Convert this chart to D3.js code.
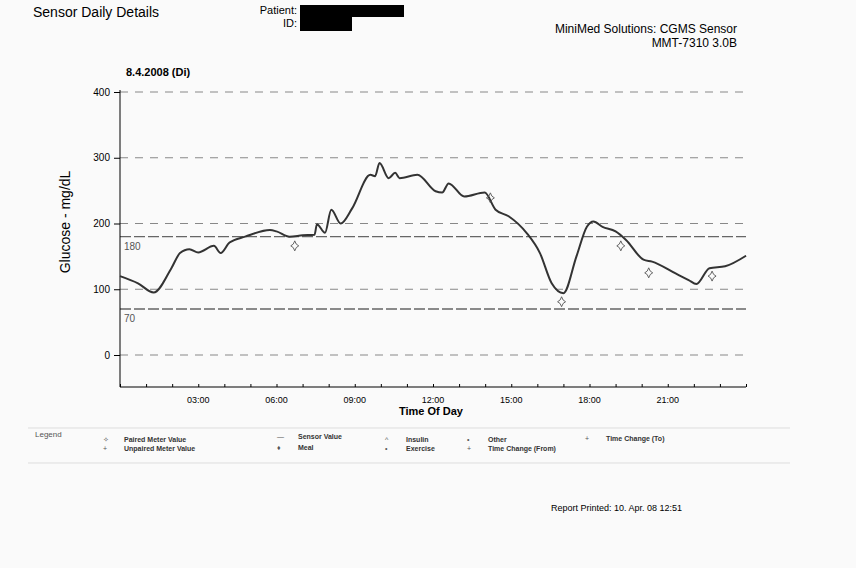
<!DOCTYPE html><html><head><meta charset="utf-8"><script src="https://cdn.jsdelivr.net/npm/d3@7"></script>
<style>body{margin:0;background:#fafafa}text{font-family:"Liberation Sans",Arial,sans-serif}</style></head><body><svg id="c" width="856" height="568"></svg><script>
const sensorHours=[0,0.69,1.29,1.97,2.3,2.66,3.0,3.6,3.86,4.2,4.8,5.75,6.0,6.5,7.0,7.46,7.55,7.86,8.1,8.46,8.9,9.6,9.78,9.95,10.3,10.55,10.72,11.4,12.1,12.35,12.6,13.2,13.98,14.4,14.9,15.6,16.1,16.55,17,17.5,17.9,18.15,18.5,19.0,19.4,20.07,20.4,21.3,21.8,22.1,22.6,23.2,24];
const sensorValues=[120,109,95,132,155,161,156,166,155,171,180,190,188,180,182,183,199,186,221,200,223,274,272,292,269,277,269,274,249,247,261,241,247,221,211,185,155,109,94,150,195,203,195,188,175,145,142,124,114,108,132,135,151];
const meterHours=[6.7,14.2,16.93,19.2,20.27,22.7];
const meterValues=[166,239,81,166,125,120];
const yTicks=[0,100,200,300,400];
const limits=[180,70];
const xTickLabels=["03:00","06:00","09:00","12:00","15:00","18:00","21:00"];
const svg=d3.select("#c");
const xa=d3.scaleLinear().domain([0,24]).range([120,746]);
const y=d3.scaleLinear().domain([0,400]).range([355,92]);
svg.append("text").attr("x",33).attr("y",17).attr("font-size",14).text("Sensor Daily Details");
svg.append("text").attr("x",297).attr("y",14).attr("font-size",11).attr("text-anchor","end").text("Patient:");
svg.append("text").attr("x",297).attr("y",27).attr("font-size",11).attr("text-anchor","end").text("ID:");
svg.append("rect").attr("x",300).attr("y",5).attr("width",104).attr("height",12);
svg.append("rect").attr("x",300).attr("y",17).attr("width",52).attr("height",14);
svg.append("text").attr("x",737).attr("y",33).attr("font-size",12).attr("text-anchor","end").text("MiniMed Solutions: CGMS Sensor");
svg.append("text").attr("x",737).attr("y",47).attr("font-size",12).attr("text-anchor","end").text("MMT-7310 3.0B");
svg.append("text").attr("x",126).attr("y",76).attr("font-size",11).attr("font-weight","bold").text("8.4.2008 (Di)");
svg.selectAll(".g").data(yTicks).join("line").attr("x1",120).attr("x2",746).attr("y1",d=>y(d)).attr("y2",d=>y(d)).attr("stroke","#888").attr("stroke-dasharray","8,7");
svg.selectAll(".l").data(limits).join("line").attr("x1",120).attr("x2",746).attr("y1",d=>y(d)).attr("y2",d=>y(d)).attr("stroke","#666").attr("stroke-width",1.3).attr("stroke-dasharray","11,3");
svg.selectAll(".lt").data(limits).join("text").attr("x",124).attr("y",d=>y(d)+13).attr("font-size",10).attr("fill","#555").text(d=>d);
svg.append("g").attr("transform","translate(120,0)").call(d3.axisLeft(y).tickValues(yTicks).tickSize(6).tickFormat(d3.format("d"))).call(g=>{g.select(".domain").attr("d","M0,90V387");g.selectAll("text").attr("font-size",10).attr("x",-10);});
svg.append("g").attr("transform","translate(0,387)").call(d3.axisTop(xa).ticks(24).tickSize(3).tickFormat("")).call(g=>g.select(".domain").remove());
svg.append("line").attr("x1",120).attr("x2",746).attr("y1",387).attr("y2",387).attr("stroke","#000");
svg.selectAll(".xt").data(xTickLabels).join("text").attr("x",(d,i)=>xa(3*(i+1))).attr("y",403).attr("font-size",9).attr("text-anchor","middle").text(d=>d);
svg.append("text").attr("x",431).attr("y",415).attr("font-size",11).attr("font-weight","bold").attr("text-anchor","middle").text("Time Of Day");
svg.append("text").attr("transform","translate(70,222)rotate(-90)").attr("font-size",14).attr("text-anchor","middle").text("Glucose - mg/dL");
svg.append("path").datum(sensorHours.map((h,i)=>[h,sensorValues[i]])).attr("d",d3.line().x(d=>xa(d[0])).y(d=>y(d[1])).curve(d3.curveMonotoneX)).attr("fill","none").attr("stroke","#333").attr("stroke-width",2);
const sparkle="M0,-5Q1,-1 4,0Q1,1 0,5Q-1,1 -4,0Q-1,-1 0,-5Z";
svg.selectAll(".m").data(meterHours).join("path").attr("d",sparkle).attr("transform",(d,i)=>`translate(${xa(d)},${y(meterValues[i])})`).attr("fill","none").attr("stroke","#555").attr("stroke-width",0.9);
svg.append("line").attr("x1",28).attr("x2",790).attr("y1",428).attr("y2",428).attr("stroke","#ddd");
svg.append("line").attr("x1",28).attr("x2",790).attr("y1",463).attr("y2",463).attr("stroke","#ddd");
svg.append("text").attr("x",35).attr("y",437).attr("font-size",8).attr("fill","#555").text("Legend");
const leg=[[103,442,"✧","Paired Meter Value"],[103,451,"+","Unpaired Meter Value"],[277,439,"—","Sensor Value"],[277,450,"♦","Meal"],[385,442,"^","Insulin"],[385,451,"•","Exercise"],[467,442,"•","Other"],[467,451,"+","Time Change (From)"],[585,441,"+","Time Change (To)"]];
leg.forEach(d=>{svg.append("text").attr("x",d[0]).attr("y",d[1]).attr("font-size",7).attr("fill","#555").text(d[2]);svg.append("text").attr("x",d[0]+21).attr("y",d[1]).attr("font-size",7).attr("font-weight","bold").attr("fill","#333").text(d[3]);});
svg.append("text").attr("x",551).attr("y",511).attr("font-size",9).text("Report Printed: 10. Apr. 08  12:51");
</script></body></html>
